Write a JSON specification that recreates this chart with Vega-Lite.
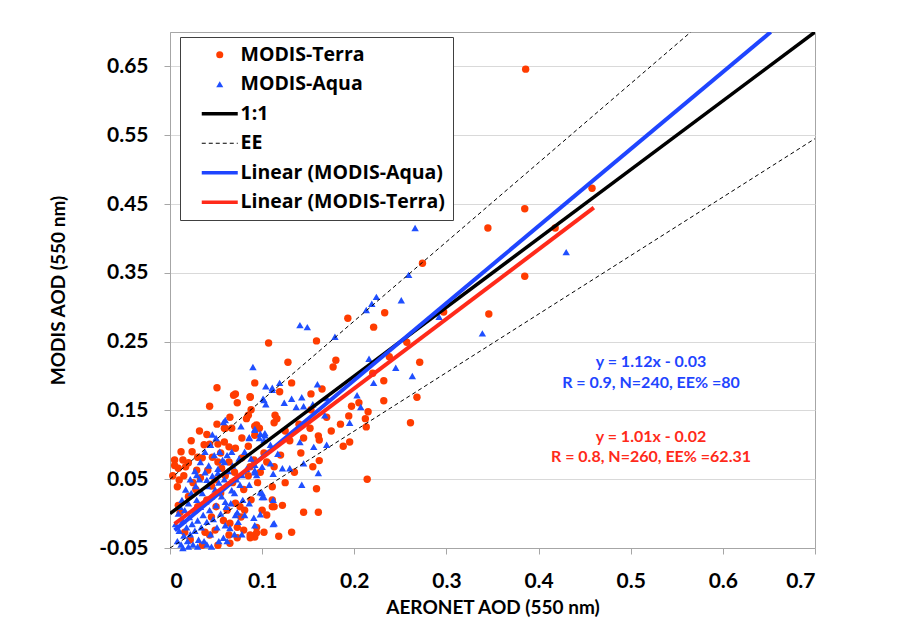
{
  "$schema": "https://vega.github.io/schema/vega-lite/v6.json",
  "width": 645,
  "height": 516,
  "autosize": {"type": "none"},
  "padding": {"left": 170, "top": 32, "right": 89, "bottom": 75},
  "background": "white",
  "config": {
    "font": "Lato",
    "view": {"stroke": "#a6a6a6", "strokeWidth": 1},
    "axis": {
      "labelFont": "Lato", "labelFontWeight": "bold", "labelFontSize": 21, "labelColor": "#000000",
      "titleFont": "Lato", "titleFontWeight": "bold", "titleFontSize": 19, "titleColor": "#000000",
      "domainColor": "#a6a6a6", "tickColor": "#a6a6a6", "tickSize": 6, "gridColor": "#d9d9d9", "labelPadding": 16
    }
  },
  "layer": [
    {
      "data": {"values": [
        {"x":0.386,"y":0.646},{"x":0.458,"y":0.473},{"x":0.385,"y":0.443},{"x":0.418,"y":0.415},{"x":0.345,"y":0.415},{"x":0.385,"y":0.345},{"x":0.346,"y":0.290},{"x":0.274,"y":0.364},{"x":0.233,"y":0.292},{"x":0.221,"y":0.271},{"x":0.297,"y":0.293},{"x":0.257,"y":0.249},{"x":0.238,"y":0.228},{"x":0.271,"y":0.220},{"x":0.220,"y":0.204},{"x":0.232,"y":0.193},{"x":0.232,"y":0.164},{"x":0.268,"y":0.169},{"x":0.215,"y":0.148},{"x":0.212,"y":0.138},{"x":0.213,"y":0.126},{"x":0.261,"y":0.132},{"x":0.214,"y":0.050},
        {"x":0.193,"y":0.284},{"x":0.107,"y":0.248},{"x":0.159,"y":0.251},{"x":0.128,"y":0.220},{"x":0.177,"y":0.213},{"x":0.180,"y":0.223},{"x":0.092,"y":0.190},{"x":0.132,"y":0.190},{"x":0.119,"y":0.177},{"x":0.153,"y":0.174},{"x":0.165,"y":0.181},{"x":0.087,"y":0.169},{"x":0.197,"y":0.156},{"x":0.205,"y":0.161},{"x":0.114,"y":0.143},{"x":0.113,"y":0.132},{"x":0.094,"y":0.129},{"x":0.153,"y":0.151},{"x":0.194,"y":0.142},{"x":0.152,"y":0.124},{"x":0.161,"y":0.113},{"x":0.162,"y":0.107},{"x":0.130,"y":0.106},{"x":0.102,"y":0.088},{"x":0.188,"y":0.098},{"x":0.195,"y":0.104},{"x":0.142,"y":0.088},{"x":0.162,"y":0.077},{"x":0.155,"y":0.068},{"x":0.087,"y":0.068},{"x":0.111,"y":0.039},{"x":0.159,"y":0.036},{"x":0.122,"y":0.012},{"x":0.145,"y":0.002},{"x":0.161,"y":0.002},{"x":0.105,"y":-0.002},{"x":0.111,"y":0.010},{"x":0.132,"y":-0.027},{"x":0.118,"y":-0.033},{"x":0.094,"y":-0.020},{"x":0.092,"y":-0.034},{"x":0.087,"y":-0.035},
        {"x":0.051,"y":0.183},{"x":0.043,"y":0.156},{"x":0.051,"y":0.130},{"x":0.059,"y":0.124},{"x":0.071,"y":0.174},{"x":0.087,"y":0.170},{"x":0.073,"y":0.161},{"x":0.088,"y":0.151},{"x":0.085,"y":0.143},{"x":0.083,"y":0.138},{"x":0.060,"y":0.124},{"x":0.067,"y":0.124},{"x":0.092,"y":0.127},{"x":0.097,"y":0.124},{"x":0.116,"y":0.138},{"x":0.092,"y":0.114},{"x":0.069,"y":0.172},
        {"x":0.023,"y":0.106},{"x":0.037,"y":0.100},{"x":0.043,"y":0.101},{"x":0.052,"y":0.101},{"x":0.024,"y":0.090},{"x":0.030,"y":0.082},{"x":0.005,"y":0.078},{"x":0.014,"y":0.078},{"x":0.020,"y":0.074},{"x":0.009,"y":0.066},{"x":0.017,"y":0.068},{"x":0.035,"y":0.081},{"x":0.046,"y":0.082},{"x":0.052,"y":0.075},{"x":0.029,"y":0.063},{"x":0.041,"y":0.063},{"x":0.056,"y":0.066},{"x":0.010,"y":0.049},{"x":0.008,"y":0.039},{"x":0.049,"y":0.049},{"x":0.009,"y":0.012},{"x":0.011,"y":0.002},{"x":0.038,"y":-0.027},{"x":0.043,"y":-0.031},{"x":0.049,"y":-0.024},{"x":0.052,"y":-0.046},{"x":0.016,"y":-0.027},{"x":0.035,"y":-0.046},{"x":0.022,"y":-0.038},
        {"x":0.059,"y":0.104},{"x":0.064,"y":0.097},{"x":0.071,"y":0.095},{"x":0.064,"y":0.075},{"x":0.078,"y":0.081},{"x":0.091,"y":0.078},{"x":0.113,"y":0.068},{"x":0.071,"y":0.015},{"x":0.076,"y":0.010},{"x":0.081,"y":0.005},{"x":0.111,"y":0.020},{"x":0.113,"y":0.010},{"x":0.065,"y":-0.014},{"x":0.073,"y":-0.020},{"x":0.080,"y":-0.024},{"x":0.087,"y":-0.031},{"x":0.064,"y":-0.031},{"x":0.065,"y":-0.043},{"x":0.073,"y":-0.035},{"x":0.094,"y":-0.028},{"x":0.102,"y":-0.027},
        {"x":0.025,"y":0.045},{"x":0.033,"y":0.052},{"x":0.045,"y":0.040},{"x":0.060,"y":0.055},{"x":0.068,"y":0.045},{"x":0.055,"y":0.030},{"x":0.040,"y":0.020},{"x":0.030,"y":0.010},{"x":0.062,"y":0.005},{"x":0.070,"y":0.060},{"x":0.085,"y":0.055},{"x":0.095,"y":0.045},{"x":0.080,"y":0.035},{"x":0.050,"y":0.010},{"x":0.020,"y":0.025},{"x":0.015,"y":0.055},{"x":0.028,"y":0.035},{"x":0.058,"y":-0.010},{"x":0.045,"y":-0.005},{"x":0.098,"y":0.060},{"x":0.105,"y":0.075},{"x":0.120,"y":0.085},{"x":0.100,"y":0.005},{"x":0.088,"y":0.020},{"x":0.077,"y":-0.005},{"x":0.055,"y":0.088},{"x":0.040,"y":0.115},{"x":0.032,"y":0.120},{"x":0.065,"y":0.140},{"x":0.078,"y":0.110},{"x":0.085,"y":0.098},{"x":0.125,"y":0.120},{"x":0.140,"y":0.130},{"x":0.135,"y":0.060},{"x":0.125,"y":0.045},{"x":0.145,"y":0.110},{"x":0.170,"y":0.140},{"x":0.175,"y":0.120},{"x":0.185,"y":0.130},{"x":0.005,"y":0.070},{"x":0.003,"y":0.055},{"x":0.012,"y":0.090}
      ]},
      "transform": [{"calculate": "'MODIS-Terra'", "as": "s"}],
      "mark": {"type": "point", "filled": true, "shape": "circle", "size": 55, "opacity": 1, "strokeWidth": 0},
      "encoding": {
        "x": {"field": "x", "type": "quantitative", "scale": {"domain": [0, 0.7], "nice": false, "zero": false},
              "axis": {"title": "AERONET AOD (550 nm)", "values": [0,0.1,0.2,0.3,0.4,0.5,0.6,0.7], "format": ".1~f", "grid": false, "titleY": 59, "titleBaseline": "middle"}},
        "y": {"field": "y", "type": "quantitative", "scale": {"domain": [-0.05, 0.70], "nice": false, "zero": false},
              "axis": {"title": "MODIS AOD (550 nm)", "values": [-0.05,0.05,0.15,0.25,0.35,0.45,0.55,0.65], "labelExpr": "datum.value < 0 ? '-' + format(-datum.value, '.2f') : format(datum.value, '.2f')", "grid": true, "titleX": -112, "titleBaseline": "middle"}},
        "color": {"field": "s", "type": "nominal",
          "scale": {"domain": ["MODIS-Terra","MODIS-Aqua","1:1","EE","Linear (MODIS-Aqua)","Linear (MODIS-Terra)"],
                    "range": ["#FF3C00","#1F4FFF","#000000","#000000","#1F45FF","#FF2A1A"]},
          "legend": {
            "orient": "none", "legendX": 10, "legendY": 5, "title": null,
            "labelFont": "Open Sans", "labelFontWeight": "bold", "labelFontSize": 19.5, "labelColor": "#000000", "labelLimit": 400,
            "padding": 8, "strokeColor": "#404040", "fillColor": "#ffffff",
            "symbolOffset": 22, "labelOffset": 11, "rowPadding": 8.5, "symbolOpacity": 1,
            "symbolType": {"expr": "datum.value === 'MODIS-Terra' ? 'circle' : datum.value === 'MODIS-Aqua' ? 'triangle-up' : 'stroke'"},
            "symbolSize": {"expr": "(datum.value === 'MODIS-Terra' || datum.value === 'MODIS-Aqua') ? 50 : 1296"},
            "symbolStrokeWidth": {"expr": "datum.value === 'EE' ? 1 : ((datum.value === 'MODIS-Terra' || datum.value === 'MODIS-Aqua') ? 0 : 3.5)"},
            "symbolDash": {"expr": "datum.value === 'EE' ? [4,3] : [1,0]"},
            "symbolFillColor": {"expr": "scale('color', datum.value)"},
            "symbolStrokeColor": {"expr": "scale('color', datum.value)"}
          }
        }
      }
    },
    {
      "data": {"values": [
        {"x":0.430,"y":0.380},{"x":0.339,"y":0.262},{"x":0.276,"y":0.431},{"x":0.266,"y":0.415},{"x":0.259,"y":0.347},{"x":0.251,"y":0.310},{"x":0.224,"y":0.315},{"x":0.219,"y":0.305},{"x":0.213,"y":0.296},{"x":0.292,"y":0.286},{"x":0.216,"y":0.225},{"x":0.245,"y":0.212},{"x":0.263,"y":0.200},{"x":0.221,"y":0.190},{"x":0.207,"y":0.155},
        {"x":0.141,"y":0.274},{"x":0.149,"y":0.271},{"x":0.179,"y":0.257},{"x":0.090,"y":0.213},{"x":0.104,"y":0.185},{"x":0.111,"y":0.183},{"x":0.119,"y":0.190},{"x":0.160,"y":0.188},{"x":0.101,"y":0.167},{"x":0.104,"y":0.159},{"x":0.124,"y":0.161},{"x":0.132,"y":0.167},{"x":0.137,"y":0.155},{"x":0.145,"y":0.156},{"x":0.143,"y":0.169},{"x":0.155,"y":0.159},{"x":0.170,"y":0.168},{"x":0.168,"y":0.143},{"x":0.203,"y":0.172},{"x":0.195,"y":0.132},{"x":0.092,"y":0.123},{"x":0.098,"y":0.116},{"x":0.103,"y":0.114},{"x":0.109,"y":0.100},{"x":0.117,"y":0.087},{"x":0.141,"y":0.104},{"x":0.156,"y":0.097},{"x":0.170,"y":0.100},{"x":0.109,"y":0.073},{"x":0.122,"y":0.066},{"x":0.130,"y":0.066},{"x":0.145,"y":0.073},{"x":0.161,"y":0.059},{"x":0.092,"y":0.063},{"x":0.094,"y":0.056},{"x":0.112,"y":0.058},{"x":0.143,"y":0.042},{"x":0.100,"y":0.030},{"x":0.112,"y":0.020},{"x":0.102,"y":0.024},{"x":0.098,"y":-0.001},{"x":0.112,"y":-0.015},{"x":0.091,"y":-0.006},
        {"x":0.058,"y":0.133},{"x":0.111,"y":0.180},{"x":0.102,"y":0.165},{"x":0.060,"y":0.136},{"x":0.077,"y":0.127},{"x":0.092,"y":0.122},{"x":0.086,"y":0.111},{"x":0.103,"y":0.117},
        {"x":0.086,"y":0.110},{"x":0.097,"y":0.110},{"x":0.102,"y":0.107},{"x":0.067,"y":0.090},{"x":0.081,"y":0.090},{"x":0.062,"y":0.085},{"x":0.092,"y":0.071},{"x":0.100,"y":0.068},{"x":0.092,"y":0.060},{"x":0.059,"y":0.075},{"x":0.078,"y":0.056},{"x":0.076,"y":0.042},{"x":0.086,"y":0.042},{"x":0.067,"y":0.034},{"x":0.098,"y":0.031},{"x":0.100,"y":0.024},{"x":0.086,"y":0.015},{"x":0.060,"y":0.017},{"x":0.073,"y":0.002},{"x":0.081,"y":-0.002},{"x":0.071,"y":-0.002},{"x":0.060,"y":-0.017},{"x":0.092,"y":-0.017},{"x":0.113,"y":-0.014},{"x":0.065,"y":-0.021},
        {"x":0.008,"y":-0.040},{"x":0.010,"y":-0.025},{"x":0.012,"y":-0.045},{"x":0.014,"y":-0.010},{"x":0.015,"y":-0.032},{"x":0.016,"y":0.005},{"x":0.018,"y":-0.020},{"x":0.019,"y":-0.040},{"x":0.020,"y":0.015},{"x":0.021,"y":-0.005},{"x":0.022,"y":-0.030},{"x":0.023,"y":0.030},{"x":0.024,"y":-0.015},{"x":0.025,"y":-0.045},{"x":0.026,"y":0.005},{"x":0.027,"y":-0.025},{"x":0.028,"y":0.040},{"x":0.029,"y":0.020},{"x":0.030,"y":-0.010},{"x":0.031,"y":-0.038},{"x":0.032,"y":0.050},{"x":0.033,"y":0.010},{"x":0.034,"y":-0.020},{"x":0.035,"y":0.030},{"x":0.036,"y":-0.002},{"x":0.037,"y":-0.040},{"x":0.038,"y":0.060},{"x":0.039,"y":0.018},{"x":0.040,"y":-0.012},{"x":0.041,"y":0.040},{"x":0.042,"y":0.070},{"x":0.043,"y":0.005},{"x":0.044,"y":-0.030},{"x":0.045,"y":0.025},{"x":0.046,"y":0.055},{"x":0.047,"y":-0.008},{"x":0.048,"y":0.085},{"x":0.049,"y":0.035},{"x":0.050,"y":0.012},{"x":0.051,"y":-0.020},{"x":0.052,"y":0.065},{"x":0.053,"y":0.045},{"x":0.054,"y":0.090},{"x":0.055,"y":0.000},{"x":0.056,"y":0.025},{"x":0.057,"y":0.078},{"x":0.058,"y":-0.035},{"x":0.059,"y":0.050},{"x":0.061,"y":0.010},{"x":0.063,"y":0.062},{"x":0.066,"y":0.015},{"x":0.068,"y":0.070},{"x":0.070,"y":0.030},{"x":0.072,"y":0.050},{"x":0.074,"y":-0.012},{"x":0.075,"y":0.080},{"x":0.079,"y":0.020},{"x":0.083,"y":0.065},{"x":0.088,"y":0.080},{"x":0.013,"y":0.020},{"x":0.017,"y":0.035},{"x":0.006,"y":-0.015},{"x":0.009,"y":0.000},{"x":0.011,"y":0.010},{"x":0.022,"y":0.050},{"x":0.027,"y":0.062},{"x":0.033,"y":0.075},{"x":0.038,"y":0.090},{"x":0.044,"y":0.100},{"x":0.046,"y":0.115},{"x":0.050,"y":0.110},{"x":0.040,"y":-0.045},{"x":0.045,"y":-0.048},{"x":0.030,"y":-0.048},{"x":0.020,"y":-0.048},{"x":0.014,"y":-0.050},{"x":0.053,"y":-0.040},{"x":0.062,"y":-0.040},{"x":0.070,"y":-0.030},{"x":0.078,"y":-0.030},{"x":0.029,"y":0.056},{"x":0.040,"y":0.049},{"x":0.052,"y":0.059}
      ]},
      "transform": [{"calculate": "'MODIS-Aqua'", "as": "s"}],
      "mark": {"type": "point", "filled": true, "shape": "triangle-up", "size": 55, "opacity": 1, "strokeWidth": 0},
      "encoding": {
        "x": {"field": "x", "type": "quantitative"},
        "y": {"field": "y", "type": "quantitative"},
        "color": {"field": "s", "type": "nominal"}
      }
    },
    {
      "data": {"values": [
        {"x":0,"y":0.05,"s":"EE","g":"upper"},{"x":0.5652,"y":0.70,"s":"EE","g":"upper"},
        {"x":0,"y":-0.05,"s":"EE","g":"lower"},{"x":0.7,"y":0.545,"s":"EE","g":"lower"}
      ]},
      "mark": {"type": "line", "strokeWidth": 1, "strokeDash": [4, 3], "clip": true},
      "encoding": {
        "x": {"field": "x", "type": "quantitative"},
        "y": {"field": "y", "type": "quantitative"},
        "detail": {"field": "g"},
        "color": {"field": "s", "type": "nominal"}
      }
    },
    {
      "data": {"values": [{"x":0,"y":0,"s":"1:1"},{"x":0.7,"y":0.7,"s":"1:1"}]},
      "mark": {"type": "line", "strokeWidth": 3.5, "clip": true},
      "encoding": {
        "x": {"field": "x", "type": "quantitative"},
        "y": {"field": "y", "type": "quantitative"},
        "color": {"field": "s", "type": "nominal"}
      }
    },
    {
      "data": {"values": [{"x":0.005,"y":-0.0244,"s":"Linear (MODIS-Aqua)"},{"x":0.652,"y":0.700,"s":"Linear (MODIS-Aqua)"}]},
      "mark": {"type": "line", "strokeWidth": 4, "clip": true},
      "encoding": {
        "x": {"field": "x", "type": "quantitative"},
        "y": {"field": "y", "type": "quantitative"},
        "color": {"field": "s", "type": "nominal"}
      }
    },
    {
      "data": {"values": [{"x":0.005,"y":-0.015,"s":"Linear (MODIS-Terra)"},{"x":0.46,"y":0.4446,"s":"Linear (MODIS-Terra)"}]},
      "mark": {"type": "line", "strokeWidth": 4, "clip": true},
      "encoding": {
        "x": {"field": "x", "type": "quantitative"},
        "y": {"field": "y", "type": "quantitative"},
        "color": {"field": "s", "type": "nominal"}
      }
    },
    {
      "data": {"values": [
        {"x":0.522,"y":0.2204,"t":"y = 1.12x - 0.03"},
        {"x":0.522,"y":0.1898,"t":"R = 0.9, N=240, EE% =80"}
      ]},
      "mark": {"type": "text", "font": "Lato", "fontWeight": "bold", "fontSize": 16, "color": "#1F45FF", "align": "center", "baseline": "middle"},
      "encoding": {
        "x": {"field": "x", "type": "quantitative"},
        "y": {"field": "y", "type": "quantitative"},
        "text": {"field": "t"}
      }
    },
    {
      "data": {"values": [
        {"x":0.522,"y":0.1113,"t":"y = 1.01x - 0.02"},
        {"x":0.522,"y":0.0823,"t":"R = 0.8, N=260, EE% =62.31"}
      ]},
      "mark": {"type": "text", "font": "Lato", "fontWeight": "bold", "fontSize": 16, "color": "#FF2A1A", "align": "center", "baseline": "middle"},
      "encoding": {
        "x": {"field": "x", "type": "quantitative"},
        "y": {"field": "y", "type": "quantitative"},
        "text": {"field": "t"}
      }
    }
  ]
}
